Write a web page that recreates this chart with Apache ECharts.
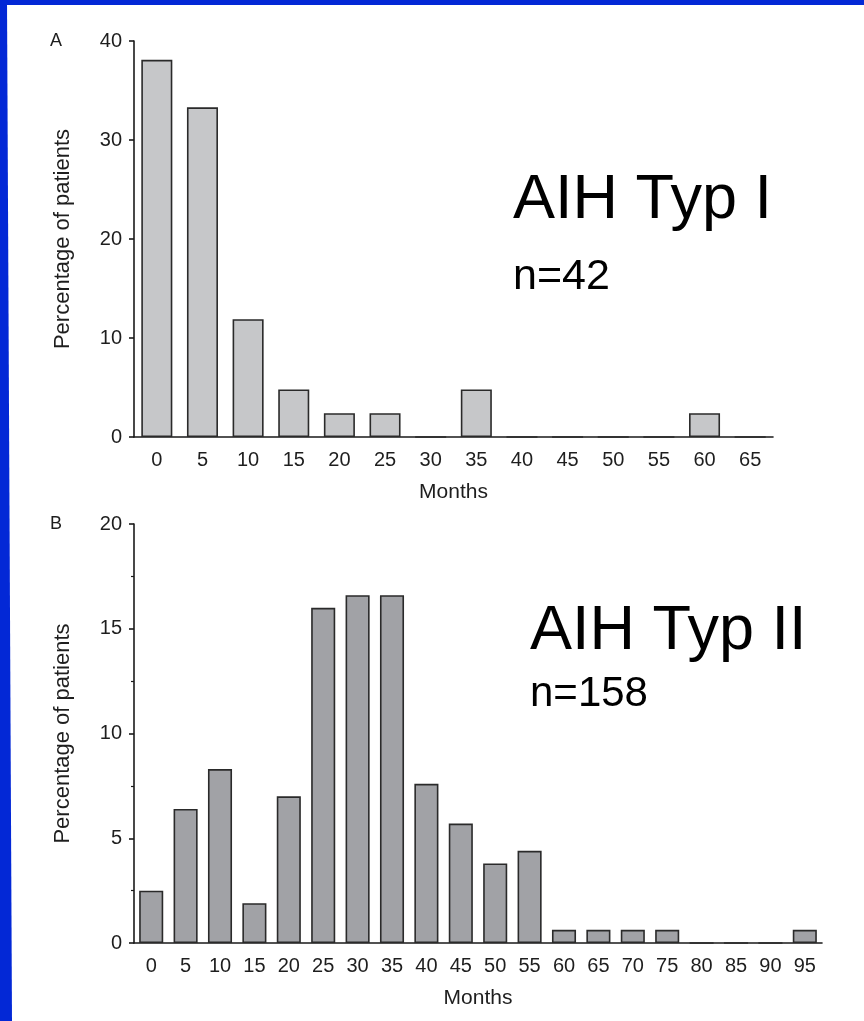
<!DOCTYPE html>
<html>
<head>
<meta charset="utf-8">
<script src="https://cdn.jsdelivr.net/npm/echarts@6/dist/echarts.min.js"></script>
<style>
html,body{margin:0;padding:0;background:#fff;}
#chart{width:864px;height:1021px;}
</style>
</head>
<body>
<div id="chart"></div>
<script>
// Panel A: AIH Typ I (n=42)
const monthsA = ['0','5','10','15','20','25','30','35','40','45','50','55','60','65'];
const percentA = [38.1, 33.3, 11.9, 4.8, 2.4, 2.4, 0, 4.8, 0, 0, 0, 0, 2.4, 0];
const yTicksA = { min: 0, max: 40, interval: 10 };

// Panel B: AIH Typ II (n=158)
const monthsB = ['0','5','10','15','20','25','30','35','40','45','50','55','60','65','70','75','80','85','90','95'];
const percentB = [2.5, 6.4, 8.3, 1.9, 7.0, 16.0, 16.6, 16.6, 7.6, 5.7, 3.8, 4.4, 0.63, 0.63, 0.63, 0.63, 0, 0, 0, 0.63];
const yTicksB = { min: 0, max: 20, interval: 5 };

const xName = 'Months';
const yName = 'Percentage of patients';
const titleA = 'AIH Typ I', nA = 'n=42';
const titleB = 'AIH Typ II', nB = 'n=158';

const FONT = "'Liberation Sans', Arial, Helvetica, sans-serif";
const TXT = '#1e1e1e';
const AX = '#1a1a1a';

function xAxisCfg(idx, cats) {
  return {
    type: 'category', gridIndex: idx, data: cats,
    boundaryGap: true,
    name: xName, nameLocation: 'middle', nameGap: 45,
    nameTextStyle: { fontFamily: FONT, fontSize: 21, color: TXT },
    axisLine: { lineStyle: { color: AX, width: 1.6 } },
    axisTick: { alignWithLabel: true, length: 5, lineStyle: { color: AX, width: 1.6 } },
    axisLabel: { fontFamily: FONT, fontSize: 20, color: TXT, margin: 13, interval: 0 }
  };
}
function yAxisCfg(idx, t, minor) {
  return {
    type: 'value', gridIndex: idx, min: t.min, max: t.max, interval: t.interval,
    name: yName, nameLocation: 'middle', nameGap: 60,
    nameTextStyle: { fontFamily: FONT, fontSize: 22, color: TXT },
    axisLine: { show: true, lineStyle: { color: AX, width: 1.6 } },
    axisTick: { show: true, length: 5, lineStyle: { color: AX, width: 1.6 } },
    minorTick: { show: minor, splitNumber: 2, length: 3, lineStyle: { color: AX, width: 1.2 } },
    splitLine: { show: false },
    axisLabel: { fontFamily: FONT, fontSize: 20, color: TXT, margin: 12 }
  };
}

const chart = echarts.init(document.getElementById('chart'), null, { renderer: 'canvas' });
chart.setOption({
  backgroundColor: '#ffffff',
  animation: false,
  grid: [
    { left: 134, top: 41, width: 639, height: 396 },
    { left: 134, top: 524, width: 688, height: 419 }
  ],
  xAxis: [xAxisCfg(0, monthsA), xAxisCfg(1, monthsB)],
  yAxis: [yAxisCfg(0, yTicksA, false), yAxisCfg(1, yTicksB, true)],
  series: [
    {
      type: 'bar', xAxisIndex: 0, yAxisIndex: 0, data: percentA, barWidth: '68%',
      itemStyle: { color: '#c6c7c9', borderColor: '#2a2a2a', borderWidth: 1.6 }
    },
    {
      type: 'bar', xAxisIndex: 1, yAxisIndex: 1, data: percentB, barWidth: '70%',
      itemStyle: { color: '#a1a2a6', borderColor: '#2a2a2a', borderWidth: 1.6 }
    }
  ],
  graphic: [
    { type: 'rect', shape: { x: 0, y: 0, width: 864, height: 5 }, style: { fill: '#0328d6' }, z: 100 },
    { type: 'polygon', shape: { points: [[0,0],[7,0],[12,1021],[0,1021]] }, style: { fill: '#0328d6' }, z: 100 },
    { type: 'text', x: 50, y: 41, style: { text: 'A', fontFamily: FONT, fontSize: 18, fill: TXT, align: 'left', verticalAlign: 'middle' } },
    { type: 'text', x: 50, y: 524, style: { text: 'B', fontFamily: FONT, fontSize: 18, fill: TXT, align: 'left', verticalAlign: 'middle' } },
    { type: 'text', x: 513, y: 201, style: { text: titleA, fontFamily: FONT, fontSize: 63, fill: '#000', align: 'left', verticalAlign: 'middle' } },
    { type: 'text', x: 513, y: 277, style: { text: nA, fontFamily: FONT, fontSize: 43, fill: '#000', align: 'left', verticalAlign: 'middle' } },
    { type: 'text', x: 530, y: 632, style: { text: titleB, fontFamily: FONT, fontSize: 63, fill: '#000', align: 'left', verticalAlign: 'middle' } },
    { type: 'text', x: 530, y: 694, style: { text: nB, fontFamily: FONT, fontSize: 42, fill: '#000', align: 'left', verticalAlign: 'middle' } }
  ]
});
</script>
</body>
</html>
